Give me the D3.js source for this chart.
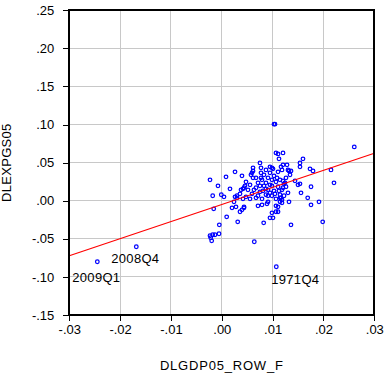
<html>
<head>
  <meta charset="utf-8">
  <title>DLEXPGS05 vs DLGDP05_ROW_F</title>
  <script src='https://d3js.org/d3.v7.min.js'></script>
  <style>
    body { margin: 0; background: #fff; }
    text { font-family: 'Liberation Sans', Arial, sans-serif; fill: #000; }
  </style>
</head>
<body>
  <script>
// x: DLGDP05_ROW_F, y: DLEXPGS05 (quarterly obs)
var dlgdp = [
  0.01027, 0.01046, 0.02606, 0.01066, 0.01106, 0.01204, 0.01125, 0.01597, 0.00751, 0.01538,
  0.01204, 0.01283, 0.00948, 0.01007, 0.00614, 0.00614, 0.00771, 0.01538, 0.01184, 0.01322,
  0.01361, 0.01735, 0.01794, 0.02148, 0.0026, 0.00397, 0.00083, -0.00232, -0.00075, 0.00161,
  -0.00179, -0.0001, 0.00043, 0.0026, 0.00299, 0.00358, 0.00417, 0.00456, 0.0024, 0.00201,
  0.00279, 0.00437, 0.00397, -0.00159, 0.00096, 0.00313, -0.00049, -0.00232, -0.00179, -0.00134,
  -0.00055, -0.00218, 0.00824, 0.01361, 0.01985, 0.00987, 0.01066, 0.01106, 0.01066, 0.01322,
  0.01145, 0.01184, 0.01558, 0.0169, 0.01755, 0.01912, 0.01755, 0.02207, 0.01538, 0.0144,
  0.01263, 0.01302, 0.01204, 0.01342, 0.00673, 0.00771, 0.00594, 0.00771, 0.00987, 0.01499,
  0.00639, -0.00199, -0.02449, -0.01682, 0.01072, 0.00378, 0.00299, 0.00437, 0.00358,
  0.00476, 0.00555, 0.00515, 0.00594, 0.00673, 0.00712, 0.00791, 0.0083, 0.00751, 0.00673,
  0.00555, 0.00476, 0.00791, 0.00869, 0.00909, 0.00948, 0.00987, 0.00909, 0.01027, 0.01066,
  0.01106, 0.01027, 0.00987, 0.01066, 0.01145, 0.01184, 0.01224, 0.01145, 0.01263, 0.01106,
  0.00948, 0.0083, 0.00869, 0.01165, 0.01302, 0.01243, 0.01204, 0.01165, 0.01145, 0.01184,
  0.01106, 0.00909, 0.00889, 0.00791, 0.00712, 0.00948, 0.01007, 0.00614, 0.00574, 0.00437,
  0.00417, 0.00948, 0.01046, 0.00869, 0.00751, 0.00633, 0.00869, 0.00987, 0.01086, 0.00909,
  0.00712, 0.01224, 0.0081, 0.01125
];
var dlexpgs = [
  0.1005, 0.1005, 0.0707, 0.0628, 0.0615, 0.0628, 0.0550, 0.0550, 0.0497, 0.0497,
  0.0471, 0.0471, 0.0445, 0.0419, 0.0432, 0.0392, 0.0432, 0.0445, 0.0405, 0.0392,
  0.0392, 0.0419, 0.0392, 0.0405, 0.0379, 0.0327, 0.0314, 0.0274, 0.0196, 0.0156,
  0.0065, 0.0078, 0.0051, 0.0051, 0.0065, 0.0091, 0.0156, 0.0196, -0.0014, -0.0093,
  -0.0080, -0.0093, -0.0119, -0.0106, -0.0211, -0.0277, -0.0316, -0.0460, -0.0447, -0.0447,
  -0.0434, -0.0486, -0.0290, -0.0316, -0.0277, -0.0159, -0.0145, -0.0145, -0.0067, -0.0014,
  0.0038, 0.0012, 0.0104, 0.0038, -0.0054, -0.0014, 0.0183, 0.0235, 0.0222, 0.0261,
  0.0183, 0.0104, 0.0261, 0.0340, 0.0301, 0.0301, 0.0366, 0.0366, 0.0432, 0.0209,
  -0.0539, -0.0526, -0.0801, -0.0604, -0.0867, 0.0143, 0.0038, -0.0080, -0.0145,
  0.0248, 0.0209, 0.0143, 0.0091, 0.0170, 0.0235, 0.0274, 0.0196, 0.0117, 0.0038,
  0.0025, 0.0051, 0.0025, 0.0078, 0.0143, 0.0209, 0.0274, 0.0301, 0.0327, 0.0248,
  0.0183, 0.0130, 0.0065, 0.0025, 0.0078, 0.0143, 0.0222, 0.0274, 0.0301, 0.0379,
  0.0366, 0.0340, 0.0405, 0.0445, 0.0405, 0.0235, 0.0170, 0.0038, -0.0014, -0.0027,
  -0.0080, -0.0014, -0.0040, -0.0054, -0.0067, -0.0224, -0.0224, 0.0301, 0.0340, 0.0170,
  0.0025, 0.0104, 0.0091, 0.0235, 0.0196, 0.0143, 0.0156, 0.0196, 0.0301, 0.0065,
  0.0065, 0.0065, 0.0130, 0.0130
];

// labelled observations (index into the arrays above)
var obsLabels = ['2009Q1', '2008Q4', '1971Q4'];
var obsIndex = [82, 83, 84];

// fitted regression line
var fitIntercept = -0.0049;
var fitSlope = 2.243;

var xTicks = [-0.03, -0.02, -0.01, 0, 0.01, 0.02, 0.03];
var yTicks = [-0.15, -0.10, -0.05, 0, 0.05, 0.10, 0.15, 0.20, 0.25];
var xTitle = 'DLGDP05_ROW_F';
var yTitle = 'DLEXPGS05';

var width = 384,
    height = 375;
var pLeft = 69.3, pRight = 374.3, pTop = 10.3, pBottom = 315;

var svg = d3.select('body')
  .append('svg')
  .attr('width', width)
  .attr('height', height);

var x = d3.scaleLinear().domain([-0.03, 0.03]).range([pLeft, pRight]);
var y = d3.scaleLinear().domain([-0.15, 0.25]).range([pBottom, pTop]);

var fmt = function(v) {
  return d3.format('.2f')(v).replace('\u2212', '-').replace('0.', '.');
};

// grid
var grid = svg.append('g').attr('shape-rendering', 'crispEdges');
grid.selectAll('.gx')
  .data(xTicks.slice(1, -1))
  .enter()
  .append('line')
  .attr('x1', d => x(d)).attr('x2', d => x(d))
  .attr('y1', pTop).attr('y2', pBottom)
  .attr('stroke', '#c8c8c8');
grid.selectAll('.gy')
  .data(yTicks.slice(1, -1))
  .enter()
  .append('line')
  .attr('x1', pLeft).attr('x2', pRight)
  .attr('y1', d => y(d)).attr('y2', d => y(d))
  .attr('stroke', '#c8c8c8');

// axes
var xAxis = d3.axisBottom(x).tickValues(xTicks).tickFormat(fmt).tickSize(6).tickPadding(4);
var yAxis = d3.axisLeft(y).tickValues(yTicks).tickFormat(fmt).tickSize(6).tickPadding(9);

var gx = svg.append('g').attr('transform', 'translate(0,' + pBottom + ')').call(xAxis);
var gy = svg.append('g').attr('transform', 'translate(' + pLeft + ',0)').call(yAxis);
[gx, gy].forEach(function(g) {
  g.select('.domain').remove();
  g.selectAll('line').attr('stroke', '#000').attr('shape-rendering', 'crispEdges');
  g.selectAll('text').style('font-size', '13px').attr('fill', '#000')
    .style('font-family', "'Liberation Sans', Arial, sans-serif");
});

// points
svg.append('g')
  .selectAll('circle')
  .data(dlgdp)
  .enter()
  .append('circle')
  .attr('cx', (d, i) => x(d))
  .attr('cy', (d, i) => y(dlexpgs[i]))
  .attr('r', 1.8)
  .attr('fill', 'none')
  .attr('stroke', '#0000ff')
  .attr('stroke-width', 1.25);

// regression line
svg.append('line')
  .attr('x1', x(-0.03)).attr('y1', y(fitIntercept + fitSlope * -0.03))
  .attr('x2', x(0.03)).attr('y2', y(fitIntercept + fitSlope * 0.03))
  .attr('stroke', '#ff0000')
  .attr('stroke-width', 1.2);

// frame
svg.append('rect')
  .attr('x', pLeft).attr('y', pTop)
  .attr('width', pRight - pLeft).attr('height', pBottom - pTop)
  .attr('fill', 'none')
  .attr('stroke', '#000')
  .attr('stroke-width', 2)
  .attr('shape-rendering', 'crispEdges');

// observation labels
var labelOffset = [[-25, 20], [-25, 16], [-5, 17]];
svg.append('g')
  .selectAll('text')
  .data(obsLabels)
  .enter()
  .append('text')
  .attr('x', (d, i) => x(dlgdp[obsIndex[i]]) + labelOffset[i][0])
  .attr('y', (d, i) => y(dlexpgs[obsIndex[i]]) + labelOffset[i][1])
  .style('font-size', '13px')
  .style('letter-spacing', '0.3px')
  .text(d => d);

// titles
svg.append('text')
  .attr('x', (pLeft + pRight) / 2)
  .attr('y', 370)
  .attr('text-anchor', 'middle')
  .style('font-size', '13px')
  .style('letter-spacing', '0.8px')
  .text(xTitle);

svg.append('text')
  .attr('transform', 'translate(11,' + ((pTop + pBottom) / 2) + ') rotate(-90)')
  .attr('text-anchor', 'middle')
  .style('font-size', '13px')
  .style('letter-spacing', '0.3px')
  .text(yTitle);
  </script>
</body>
</html>
